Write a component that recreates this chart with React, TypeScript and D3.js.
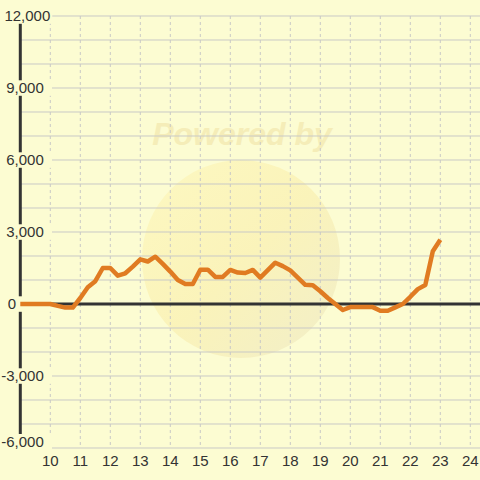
import React from "react";
import * as d3 from "d3";

const hours = [
  9, 9.25, 9.5, 9.75, 10, 10.25, 10.5, 10.75, 11, 11.25, 11.5, 11.75,
  12, 12.25, 12.5, 12.75, 13, 13.25, 13.5, 13.75, 14, 14.25, 14.5, 14.75,
  15, 15.25, 15.5, 15.75, 16, 16.25, 16.5, 16.75, 17, 17.25, 17.5, 17.75,
  18, 18.25, 18.5, 18.75, 19, 19.25, 19.5, 19.75, 20, 20.25, 20.5, 20.75,
  21, 21.25, 21.5, 21.75, 22, 22.25, 22.5, 22.75, 23,
];
const values = [
  0, 0, 0, 0, 0, -80, -150, -150, 250, 700, 950, 1500,
  1500, 1180, 1280, 1560, 1860, 1770, 1970, 1670, 1350, 1000, 830, 830,
  1430, 1430, 1130, 1130, 1420, 1310, 1290, 1420, 1100, 1410, 1720, 1580,
  1400, 1100, 800, 780, 530, 250, 0, -250, -130, -130, -130, -130,
  -280, -280, -140, 0, 300, 620, 790, 2200, 2680,
];
const xTicks = [10, 11, 12, 13, 14, 15, 16, 17, 18, 19, 20, 21, 22, 23, 24];
const yLabelTicks = [12000, 9000, 6000, 3000, 0, -3000, -6000];
const yGridTicks = [
  12000, 11000, 10000, 9000, 8000, 7000, 6000, 5000, 4000, 3000, 2000, 1000,
  0, -1000, -2000, -3000, -4000, -5000, -6000,
];

const W = 480;
const H = 480;
const BG = "#fcfcd2";
const GRID = "#c9c9c6";
const DARK = "#333333";
const FONT = "'Liberation Sans', Arial, sans-serif";
const FS = 15;

export default function App() {
  const x = d3.scaleLinear().domain([9, 24]).range([20.3, 470.3]);
  const y = d3.scaleLinear().domain([-6000, 12000]).range([448, 16]);
  const locale = d3.formatLocale({
    decimal: ".",
    thousands: ",",
    grouping: [3],
    currency: ["", ""],
    minus: "-",
  });
  const fmt = locale.format(",");
  const line = d3
    .line<number>()
    .x((_, i) => x(hours[i]))
    .y((d) => y(d));

  const yLabelPos = (v: number) => {
    if (v === 0) return { x: 7.7, anchor: "start" };
    if (v >= 10000) return { x: 4.4, anchor: "start" };
    return { x: 43.8, anchor: "end" };
  };

  const measure = (s: string) => {
    let w = 0;
    for (const c of s) w += c === "," ? 0.278 : c === "-" ? 0.333 : 0.556;
    return w * FS;
  };

  return (
    <div style={{ position: "fixed", left: 0, top: 0 }}>
      <svg width={W} height={H} style={{ display: "block" }}>
        <defs>
          <linearGradient id="wm" x1="0" y1="0" x2="1" y2="1">
            <stop offset="0" stopColor="#fdf7bd" />
            <stop offset="0.5" stopColor="#faf1b4" />
            <stop offset="1" stopColor="#efebc6" />
          </linearGradient>
        </defs>
        <rect x={0} y={0} width={W} height={H} fill={BG} />

        {/* watermark */}
        <circle cx={241} cy={259} r={99} fill="url(#wm)" opacity={0.8} />
        <text
          x={242}
          y={145}
          textAnchor="middle"
          fontFamily={FONT}
          fontWeight="bold"
          fontStyle="italic"
          fontSize={32}
          fill="#f5edb8"
        >
          Powered by
        </text>

        {/* horizontal grid */}
        {yGridTicks.map((v) => (
          <line
            key={"h" + v}
            x1={x(9)}
            x2={W}
            y1={y(v)}
            y2={y(v)}
            stroke={GRID}
            strokeWidth={1}
          />
        ))}
        {/* vertical dashed grid */}
        {xTicks.map((t) => (
          <line
            key={"v" + t}
            x1={x(t)}
            x2={x(t)}
            y1={y(12000)}
            y2={y(-6000)}
            stroke={GRID}
            strokeWidth={1}
            strokeDasharray="3,3"
          />
        ))}

        {/* zero line */}
        <line x1={x(9)} x2={W} y1={y(0)} y2={y(0)} stroke={DARK} strokeWidth={3} />
        {/* y axis */}
        <line
          x1={x(9)}
          x2={x(9)}
          y1={y(12000)}
          y2={y(-6000)}
          stroke={DARK}
          strokeWidth={3}
        />

        {/* y labels */}
        {yLabelTicks.map((v) => {
          const s = fmt(v);
          const p = yLabelPos(v);
          const w = measure(s);
          const left = p.anchor === "end" ? p.x - w : p.x;
          const base = Math.min(y(v) + 5.3, 447);
          return (
            <g key={"yl" + v}>
              <rect
                x={0}
                y={base - 13}
                width={Math.max(left + w + 2, 52)}
                height={15.5}
                fill={BG}
              />
              <text
                x={p.x}
                y={base}
                textAnchor={p.anchor as any}
                fontFamily={FONT}
                fontSize={FS}
                fill={DARK}
              >
                {s}
              </text>
            </g>
          );
        })}

        {/* x labels */}
        {xTicks.map((t) => (
          <text
            key={"xl" + t}
            x={x(t)}
            y={465.5}
            textAnchor="middle"
            fontFamily={FONT}
            fontSize={FS}
            fill={DARK}
          >
            {t}
          </text>
        ))}

        {/* data line */}
        <path
          d={line(values) || ""}
          fill="none"
          stroke="#e07b22"
          strokeWidth={4.5}
          strokeLinejoin="round"
          strokeLinecap="butt"
        />
      </svg>
    </div>
  );
}
